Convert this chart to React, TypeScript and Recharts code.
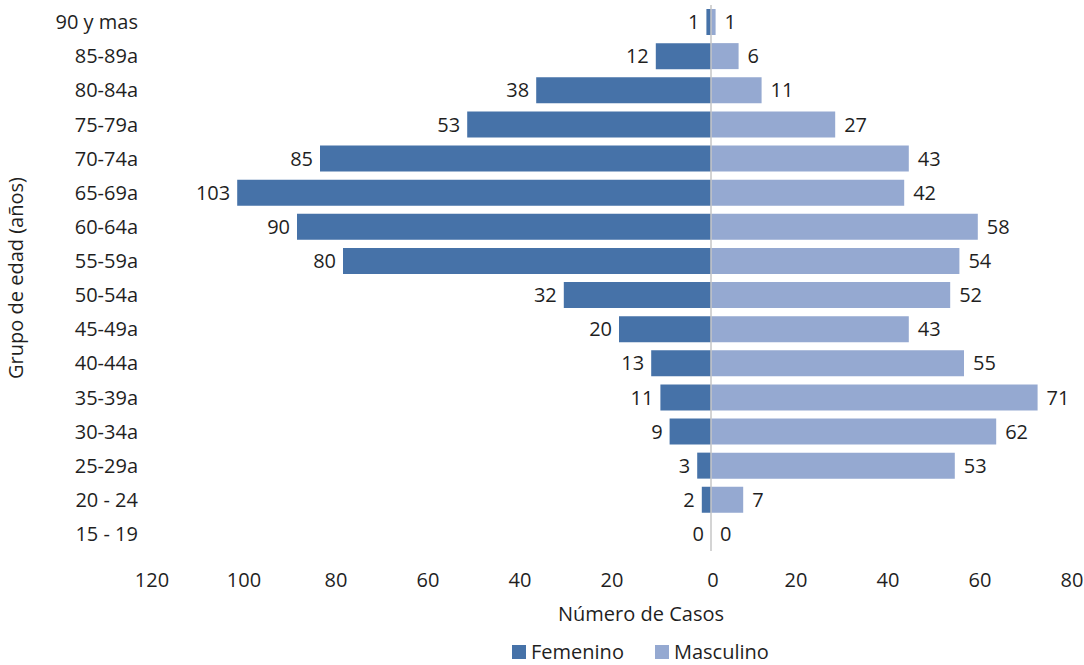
import { Bar, BarChart, LabelList, Legend, ReferenceLine, XAxis, YAxis } from "recharts"

const categories = [
  "90 y mas", "85-89a", "80-84a", "75-79a", "70-74a", "65-69a", "60-64a", "55-59a",
  "50-54a", "45-49a", "40-44a", "35-39a", "30-34a", "25-29a", "20 - 24", "15 - 19",
]
const femenino = [1, 12, 38, 53, 85, 103, 90, 80, 32, 20, 13, 11, 9, 3, 2, 0]
const masculino = [1, 6, 11, 27, 43, 42, 58, 54, 52, 43, 55, 71, 62, 53, 7, 0]
const xTicks = [-120, -100, -80, -60, -40, -20, 0, 20, 40, 60, 80]

const data = categories.map((grupo, i) => ({
  grupo,
  Femenino: -femenino[i],
  Masculino: masculino[i],
}))

const FONT = "'Open Sans', sans-serif"
const FS = 20
const TEXT = "#1f1f1f"
const FEM = "#4672A8"
const MAS = "#95A9D1"

const XTick = (props: any) => {
  const { x, y, payload } = props
  const shift = payload.value === 0 ? 2 : -7
  return (
    <text x={x + shift} y={y} dy={28} textAnchor="middle" fill={TEXT} fontSize={FS} fontFamily={FONT}>
      {Math.abs(payload.value)}
    </text>
  )
}

// labels on the outer end of each bar (left for women, right for men)
const FemLabel = (props: any) => {
  const { x, y, width, height, value } = props
  const left = Math.min(x, x + width)
  return (
    <text x={left - 7} y={y + height / 2} dy="0.36em" textAnchor="end" fill={TEXT} fontSize={FS} fontFamily={FONT}>
      {Math.abs(Number(value))}
    </text>
  )
}

const MasLabel = (props: any) => {
  const { x, y, width, height, value } = props
  const right = Math.max(x, x + width)
  return (
    <text x={right + 9} y={y + height / 2} dy="0.36em" textAnchor="start" fill={TEXT} fontSize={FS} fontFamily={FONT}>
      {Number(value)}
    </text>
  )
}

const LegendBox = () => (
  <div style={{ display: "flex", alignItems: "center", fontFamily: FONT, fontSize: FS, color: TEXT }}>
    <span style={{ width: 14, height: 14, background: FEM, display: "inline-block", marginRight: 5 }} />
    <span style={{ marginRight: 31 }}>Femenino</span>
    <span style={{ width: 14, height: 14, background: MAS, display: "inline-block", marginRight: 5 }} />
    <span>Masculino</span>
  </div>
)

export default function App() {
  return (
    <div style={{ position: "absolute", left: 0, top: 0, width: 1084, height: 665, background: "#fff", fontFamily: FONT }}>
      <BarChart
        width={1084}
        height={665}
        data={data}
        layout="vertical"
        stackOffset="sign"
        barSize={26}
        margin={{ top: 5, right: 5, left: 6, bottom: 12 }}
      >
        <XAxis
          type="number"
          domain={[-120, 80]}
          ticks={xTicks}
          axisLine={false}
          tickLine={false}
          tick={<XTick />}
          height={72}
          interval={0}
          label={{ value: "Número de Casos", position: "insideBottom", offset: 2, dx: 22, fill: TEXT, fontSize: FS, fontFamily: FONT }}
        />
        <YAxis
          type="category"
          dataKey="grupo"
          width={153}
          axisLine={false}
          tickLine={false}
          tickMargin={15}
          interval={0}
          tick={{ fill: TEXT, fontSize: FS, fontFamily: FONT }}
          label={{ value: "Grupo de edad (años)", angle: -90, position: "insideLeft", offset: 10, fill: TEXT, fontSize: FS, fontFamily: FONT, style: { textAnchor: "middle" } }}
        />
        <Legend verticalAlign="bottom" height={30} content={<LegendBox />} wrapperStyle={{ left: 512, top: 638, width: 300 }} />
        <Bar dataKey="Femenino" stackId="a" fill={FEM} minPointSize={0.001} isAnimationActive={false}>
          <LabelList dataKey="Femenino" content={<FemLabel />} />
        </Bar>
        <Bar dataKey="Masculino" stackId="a" fill={MAS} minPointSize={0.001} isAnimationActive={false}>
          <LabelList dataKey="Masculino" content={<MasLabel />} />
        </Bar>
        <ReferenceLine x={0} stroke="#c6c6c6" strokeWidth={1.5} />
      </BarChart>
    </div>
  )
}
